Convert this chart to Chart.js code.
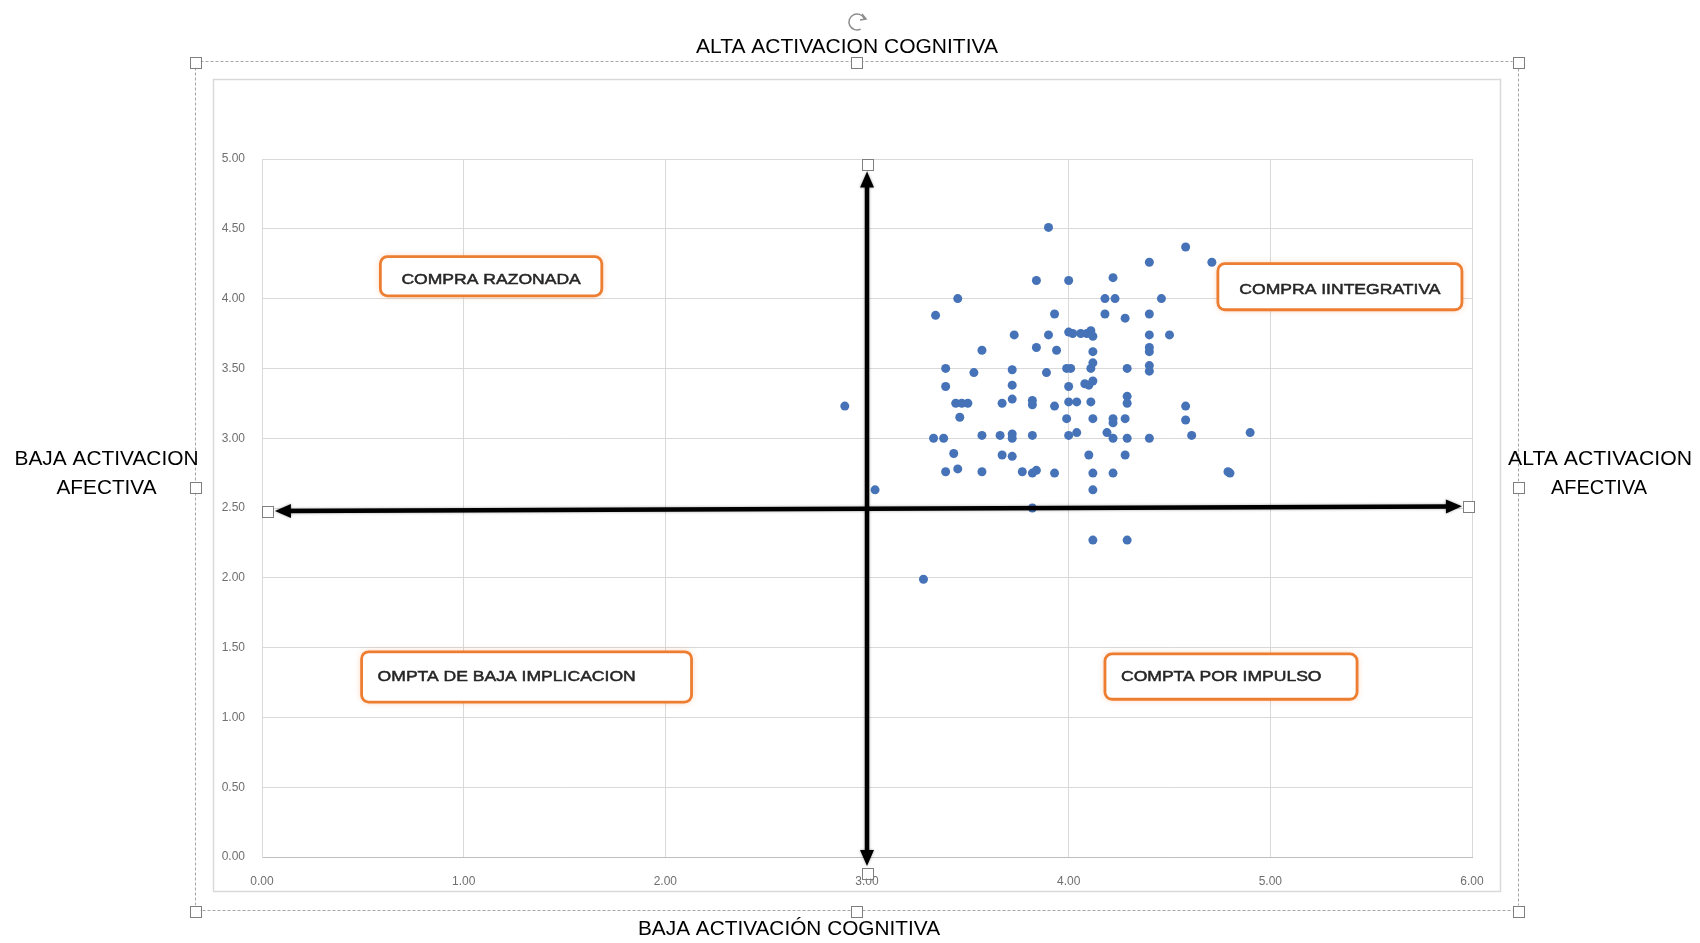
<!DOCTYPE html>
<html>
<head>
<meta charset="utf-8">
<script src="https://cdn.jsdelivr.net/npm/chart.js@4/dist/chart.umd.min.js"></script>
<style>
  html, body { margin: 0; padding: 0; background: #ffffff; }
  #wrap { width: 1700px; height: 943px; position: relative; }
</style>
</head>
<body>
<div id="wrap"><canvas id="c" width="1700" height="943"></canvas></div>
<script>
// ---- Data ----
const xValues = [3.90,4.58,4.71,4.40,3.84,4.00,4.22,3.45,4.18,4.23,4.46,3.34,3.93,4.18,4.28,4.40,3.73,3.90,4.00,4.02,4.06,4.09,4.11,4.12,4.40,4.50,3.57,3.84,3.94,4.12,4.40,4.40,3.39,3.53,3.72,3.89,3.99,4.01,4.11,4.12,4.29,4.40,4.40,3.39,3.72,4.00,4.08,4.10,4.12,3.44,3.47,3.50,3.67,3.72,3.82,3.82,3.93,4.00,4.04,4.11,4.29,4.29,4.58,2.89,3.46,3.99,4.12,4.22,4.22,4.28,4.58,3.33,3.38,3.57,3.66,3.72,3.72,3.82,4.00,4.04,4.19,4.22,4.29,4.40,4.61,4.90,3.43,3.67,3.72,4.10,4.28,3.39,3.45,3.57,3.77,3.82,3.84,3.93,4.12,4.22,4.79,4.80,3.04,4.12,3.82,4.12,4.29,3.28];
const yValues = [4.51,4.37,4.26,4.26,4.13,4.13,4.15,4.00,4.00,4.00,4.00,3.88,3.89,3.89,3.86,3.89,3.74,3.74,3.76,3.75,3.75,3.75,3.77,3.73,3.74,3.74,3.63,3.65,3.63,3.62,3.65,3.62,3.50,3.47,3.49,3.47,3.50,3.50,3.50,3.54,3.50,3.52,3.48,3.37,3.38,3.37,3.39,3.38,3.41,3.25,3.25,3.25,3.25,3.28,3.27,3.24,3.23,3.26,3.26,3.26,3.30,3.25,3.23,3.23,3.15,3.14,3.14,3.14,3.11,3.14,3.13,3.00,3.00,3.02,3.02,3.03,3.00,3.02,3.02,3.04,3.04,3.00,3.00,3.00,3.02,3.04,2.89,2.88,2.87,2.88,2.88,2.76,2.78,2.76,2.76,2.75,2.77,2.75,2.75,2.75,2.76,2.75,2.63,2.63,2.50,2.27,2.27,1.99];
const xTicks = [0, 1, 2, 3, 4, 5, 6];
const yTicks = [0, 0.5, 1, 1.5, 2, 2.5, 3, 3.5, 4, 4.5, 5];

// Quadrant labels (text + box extent in data units)
const quadrantLabels = ["COMPRA RAZONADA", "COMPRA IINTEGRATIVA", "OMPTA DE BAJA IMPLICACION", "COMPTA POR IMPULSO"];
const quadrantBoxX1 = [0.587, 4.740, 0.494, 4.180];
const quadrantBoxX2 = [1.685, 5.950, 2.130, 5.430];
const quadrantBoxYTop = [4.30, 4.25, 1.470, 1.455];
const quadrantBoxYBottom = [4.02, 3.92, 1.110, 1.130];
const quadrantAlign = ["center", "center", "left", "left"];
const quadrantTextShift = [3, 3, -1, 0];

// Axis arrows (data units)
const hArrow = { x1: 0.064, y1: 2.478, x2: 5.95, y2: 2.512 };
const vArrow = { x1: 3.0, y1: -0.065, x2: 3.0, y2: 4.91 };

const points = xValues.map((x, i) => ({ x: x, y: yValues[i] }));

function fitText(ctx, text, x, y, w, size, align, color, thicken) {
  ctx.save();
  ctx.font = size + 'px "Liberation Sans", Arial, sans-serif';
  const m = ctx.measureText(text).width;
  const s = w / m;
  ctx.translate(x, y);
  ctx.scale(s, 1);
  ctx.textAlign = align;
  ctx.textBaseline = 'middle';
  ctx.fillStyle = color;
  ctx.fillText(text, 0, 0);
  if (thicken) {
    ctx.strokeStyle = color;
    ctx.lineWidth = thicken;
    ctx.strokeText(text, 0, 0);
  }
  ctx.restore();
}

function handle(ctx, cx, cy, s) {
  ctx.save();
  ctx.fillStyle = '#ffffff';
  ctx.strokeStyle = '#7f7f7f';
  ctx.lineWidth = 1;
  ctx.fillRect(cx - s / 2, cy - s / 2, s, s);
  ctx.strokeRect(Math.round(cx - s / 2) + 0.5, Math.round(cy - s / 2) + 0.5, s, s);
  ctx.restore();
}

function arrow(ctx, x1, y1, x2, y2) {
  const ang = Math.atan2(y2 - y1, x2 - x1);
  const headL = 16, headW = 7;
  ctx.save();
  ctx.strokeStyle = '#000000';
  ctx.fillStyle = '#000000';
  ctx.lineWidth = 4.5;
  ctx.shadowColor = 'rgba(0,0,0,0.35)';
  ctx.shadowBlur = 3;
  ctx.beginPath();
  ctx.moveTo(x1 + Math.cos(ang) * headL * 0.8, y1 + Math.sin(ang) * headL * 0.8);
  ctx.lineTo(x2 - Math.cos(ang) * headL * 0.8, y2 - Math.sin(ang) * headL * 0.8);
  ctx.stroke();
  function head(tx, ty, a) {
    ctx.beginPath();
    ctx.moveTo(tx, ty);
    ctx.lineTo(tx - Math.cos(a) * headL - Math.sin(a) * headW, ty - Math.sin(a) * headL + Math.cos(a) * headW);
    ctx.lineTo(tx - Math.cos(a) * headL + Math.sin(a) * headW, ty - Math.sin(a) * headL - Math.cos(a) * headW);
    ctx.closePath();
    ctx.fill();
  }
  head(x2, y2, ang);
  head(x1, y1, ang + Math.PI);
  ctx.restore();
}

const decorPlugin = {
  id: 'decor',
  beforeDraw(chart) {
    const ctx = chart.ctx;
    ctx.save();
    ctx.fillStyle = '#ffffff';
    ctx.fillRect(0, 0, chart.width, chart.height);
    ctx.strokeStyle = '#d9d9d9';
    ctx.lineWidth = 1.5;
    ctx.strokeRect(213.5, 79.5, 1287, 812);
    ctx.strokeStyle = '#a6a6a6';
    ctx.lineWidth = 1;
    ctx.setLineDash([3, 2]);
    ctx.strokeRect(195.5, 61.5, 1323, 849);
    ctx.setLineDash([]);
    ctx.restore();
  },
  afterDraw(chart) {
    const ctx = chart.ctx;
    const xs = chart.scales.x, ys = chart.scales.y;
    const hx1 = xs.getPixelForValue(hArrow.x1), hy1 = ys.getPixelForValue(hArrow.y1);
    const hx2 = xs.getPixelForValue(hArrow.x2), hy2 = ys.getPixelForValue(hArrow.y2);
    const vx1 = xs.getPixelForValue(vArrow.x1), vy1 = ys.getPixelForValue(vArrow.y1);
    const vx2 = xs.getPixelForValue(vArrow.x2), vy2 = ys.getPixelForValue(vArrow.y2);
    arrow(ctx, hx1, hy1, hx2, hy2);
    arrow(ctx, vx1, vy1, vx2, vy2);
    handle(ctx, hx1 - 7, hy1, 11);
    handle(ctx, hx2 + 7, hy2, 11);
    handle(ctx, vx2, vy2 - 7, 11);
    handle(ctx, vx1, vy1 + 7, 11);

    quadrantLabels.forEach((t, i) => {
      const l = xs.getPixelForValue(quadrantBoxX1[i]);
      const r = xs.getPixelForValue(quadrantBoxX2[i]);
      const tp = ys.getPixelForValue(quadrantBoxYTop[i]);
      const b = ys.getPixelForValue(quadrantBoxYBottom[i]);
      ctx.save();
      ctx.beginPath();
      ctx.roundRect(l, tp, r - l, b - tp, 7);
      ctx.fillStyle = '#ffffff';
      ctx.shadowColor = 'rgba(237,125,49,0.45)';
      ctx.shadowBlur = 6;
      ctx.fill();
      ctx.shadowBlur = 0;
      ctx.strokeStyle = '#ed7d31';
      ctx.lineWidth = 2.8;
      ctx.stroke();
      ctx.restore();
      const cy = (tp + b) / 2 + 0.5 + quadrantTextShift[i];
      ctx.save();
      ctx.font = '15px "Liberation Sans", Arial, sans-serif';
      const natural = ctx.measureText(t).width;
      ctx.restore();
      const w = natural * 1.17;
      if (quadrantAlign[i] === 'center') {
        fitText(ctx, t, (l + r) / 2, cy, w, 15, 'center', '#262626', 0.5);
      } else {
        fitText(ctx, t, l + 16, cy, w, 15, 'left', '#262626', 0.5);
      }
    });

    fitText(ctx, 'ALTA ACTIVACION COGNITIVA', 847, 47, 302, 21, 'center', '#000000');
    fitText(ctx, 'BAJA ACTIVACIÓN COGNITIVA', 789, 929, 302, 21, 'center', '#000000');
    fitText(ctx, 'BAJA ACTIVACION', 106.5, 459, 184, 21, 'center', '#000000');
    fitText(ctx, 'AFECTIVA', 106.5, 488, 100, 21, 'center', '#000000');
    fitText(ctx, 'ALTA ACTIVACION', 1600, 459, 184, 21, 'center', '#000000');
    fitText(ctx, 'AFECTIVA', 1599, 488, 96, 21, 'center', '#000000');

    [[195, 62], [856.5, 62], [1518, 62], [195, 487], [1518, 487], [195, 911], [856.5, 911], [1518, 911]]
      .forEach(p => handle(ctx, p[0], p[1], 11));

    ctx.save();
    ctx.strokeStyle = '#8c8c8c';
    ctx.lineWidth = 1.5;
    ctx.beginPath();
    ctx.arc(857, 22, 8, Math.PI * 0.35, Math.PI * 1.9);
    ctx.stroke();
    ctx.beginPath();
    ctx.moveTo(862, 14); ctx.lineTo(866, 19); ctx.lineTo(860, 20);
    ctx.stroke();
    ctx.restore();
  }
};

new Chart(document.getElementById('c'), {
  type: 'scatter',
  data: {
    datasets: [{
      data: points,
      pointRadius: 4.5,
      pointHoverRadius: 4.5,
      pointBackgroundColor: '#4673b8',
      pointBorderColor: '#4673b8',
      pointBorderWidth: 0
    }]
  },
  options: {
    responsive: false,
    animation: false,
    events: [],
    layout: { padding: { left: 210, right: 228, top: 159, bottom: 46 } },
    plugins: { legend: { display: false }, tooltip: { enabled: false } },
    scales: {
      x: {
        type: 'linear',
        min: xTicks[0],
        max: xTicks[xTicks.length - 1],
        afterBuildTicks: (s) => { s.ticks = xTicks.map(v => ({ value: v })); },
        afterFit: (s) => { s.height = 40; },
        grid: { color: '#d9d9d9', lineWidth: 1, drawTicks: false },
        border: { color: '#bfbfbf', width: 1 },
        ticks: {
          padding: 17,
          color: '#6f6f6f',
          font: { family: '"Liberation Sans", Arial, sans-serif', size: 12 },
          callback: (v) => Number(v).toFixed(2)
        }
      },
      y: {
        type: 'linear',
        min: yTicks[0],
        max: yTicks[yTicks.length - 1],
        afterBuildTicks: (s) => { s.ticks = yTicks.map(v => ({ value: v })); },
        afterFit: (s) => { s.width = 52; },
        grid: { color: '#d9d9d9', lineWidth: 1, drawTicks: false },
        border: { color: '#d9d9d9', width: 1 },
        ticks: {
          padding: 17,
          color: '#6f6f6f',
          font: { family: '"Liberation Sans", Arial, sans-serif', size: 12 },
          callback: (v) => Number(v).toFixed(2)
        }
      }
    }
  },
  plugins: [decorPlugin]
});
</script>
</body>
</html>
